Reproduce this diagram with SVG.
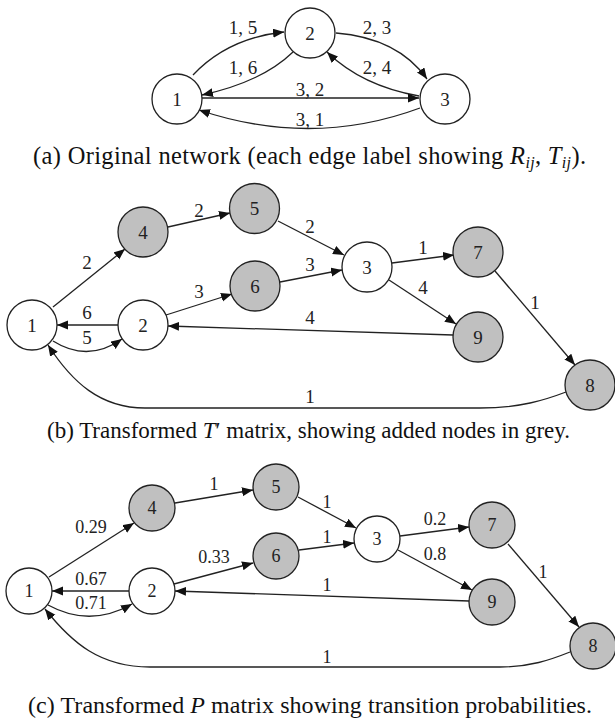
<svg xmlns="http://www.w3.org/2000/svg" width="615" height="720" viewBox="0 0 615 720">
<style>
.n{stroke:#222;stroke-width:1.3}
.w{fill:#fff}
.g{fill:#c0c0c0}
.e{fill:none;stroke:#222;stroke-width:1.3;marker-end:url(#arr)}
text{font-family:'Liberation Serif','DejaVu Serif',serif}
.t{font-size:19px;fill:#222;text-anchor:middle}
.tc{font-size:18px;fill:#222;text-anchor:middle}
.cap{font-size:23px;fill:#111}
</style>
<defs>
<marker id="arr" markerWidth="12" markerHeight="10" refX="11" refY="4.5" orient="auto" markerUnits="userSpaceOnUse"><path d="M0,0 L11,4.5 L0,9 z" fill="#111"/></marker>
</defs>
<rect width="615" height="720" fill="#fff"/>

<!-- (a) -->
<g id="a-edges">
<path class="e" d="M193,75 Q228,38 284,32"/>
<path class="e" d="M293,52 Q262,82 202,95"/>
<path class="e" d="M336,33 Q398,38 427,79"/>
<path class="e" d="M419,96 Q362,86 327,52"/>
<path class="e" d="M202,98 L419,98"/>
<path class="e" d="M420,108 Q312,148 199,110"/>
<text class="t" x="243" y="34">1, 5</text>
<text class="t" x="243" y="74">1, 6</text>
<text class="t" x="377" y="34">2, 3</text>
<text class="t" x="377" y="74">2, 4</text>
<text class="t" x="310" y="96">3, 2</text>
<text class="t" x="310" y="126">3, 1</text>
</g>
<g id="a-n1"><circle class="n w" cx="177" cy="99" r="25"/><text class="t" x="177" y="105.5">1</text></g>
<g id="a-n2"><circle class="n w" cx="310" cy="33" r="25"/><text class="t" x="310" y="39.5">2</text></g>
<g id="a-n3"><circle class="n w" cx="445" cy="99" r="25"/><text class="t" x="445" y="105.5">3</text></g>
<text class="cap" x="33" y="164" style="font-size:24.5px" textLength="553" lengthAdjust="spacing">(a) Original network (each edge label showing <tspan font-style="italic">R</tspan><tspan font-style="italic" style="font-size:16px" dy="4">ij</tspan><tspan dy="-4">, </tspan><tspan font-style="italic">T</tspan><tspan font-style="italic" style="font-size:16px" dy="4">ij</tspan><tspan dy="-4">).</tspan></text>

<!-- (b) -->
<g id="b-edges">
<path class="e" d="M53,307 L125,249"/>
<path class="e" d="M168,227 L230,213"/>
<path class="e" d="M278,221 L344,255"/>
<path class="e" d="M280,282 L342,270"/>
<path class="e" d="M166,315 L232,294"/>
<path class="e" d="M118,325 L57,325"/>
<path class="e" d="M53,341 Q88,363 122,339"/>
<path class="e" d="M453,335 L168,326"/>
<path class="e" d="M392,263 L454,255"/>
<path class="e" d="M389,280 L456,324"/>
<path class="e" d="M495,271 L575,365"/>
<path class="e" d="M566,392 C545,400 520,408 480,408 L145,408 C100,408 72,382 48,345"/>
<text class="t" x="87" y="269">2</text>
<text class="t" x="199" y="217">2</text>
<text class="t" x="310" y="233">2</text>
<text class="t" x="310" y="271">3</text>
<text class="t" x="199" y="298">3</text>
<text class="t" x="87" y="319">6</text>
<text class="t" x="87" y="344">5</text>
<text class="t" x="310" y="324">4</text>
<text class="t" x="423" y="254">1</text>
<text class="t" x="423" y="294">4</text>
<text class="t" x="535" y="309">1</text>
<text class="t" x="310" y="403">1</text>
</g>
<g id="b-n1"><circle class="n w" cx="32" cy="325" r="25"/><text class="t" x="32" y="331.5">1</text></g>
<g id="b-n2"><circle class="n w" cx="143" cy="325" r="25"/><text class="t" x="143" y="331.5">2</text></g>
<g id="b-n3"><circle class="n w" cx="367" cy="267" r="25"/><text class="t" x="367" y="273.5">3</text></g>
<g id="b-n4"><circle class="n g" cx="143" cy="232" r="25"/><text class="t" x="143" y="238.5">4</text></g>
<g id="b-n5"><circle class="n g" cx="254.5" cy="208.5" r="25"/><text class="t" x="254.5" y="215">5</text></g>
<g id="b-n6"><circle class="n g" cx="255" cy="286" r="25"/><text class="t" x="255" y="292.5">6</text></g>
<g id="b-n7"><circle class="n g" cx="478" cy="252" r="25"/><text class="t" x="478" y="258.5">7</text></g>
<g id="b-n9"><circle class="n g" cx="478" cy="337" r="25"/><text class="t" x="478" y="343.5">9</text></g>
<g id="b-n8"><circle class="n g" cx="590" cy="385" r="25"/><text class="t" x="590" y="391.5">8</text></g>
<text class="cap" x="47" y="438" textLength="523" lengthAdjust="spacing">(b) Transformed <tspan font-style="italic">T</tspan>′ matrix, showing added nodes in grey.</text>

<!-- (c) -->
<g id="c-edges">
<path class="e" d="M49,577 L134,523"/>
<path class="e" d="M175,503 L253,490"/>
<path class="e" d="M298,497 L356,528"/>
<path class="e" d="M299,550 L354,543"/>
<path class="e" d="M174,584 L253,563"/>
<path class="e" d="M129,591 L52,591"/>
<path class="e" d="M48,605 Q90,628 132,604"/>
<path class="e" d="M469,601 L175,591"/>
<path class="e" d="M400,536 L469,527"/>
<path class="e" d="M398,550 L472,590"/>
<path class="e" d="M508,544 L579,627"/>
<path class="e" d="M570,652 C550,660 530,667 500,667 L150,667 C100,667 72,643 45,609"/>
<text class="tc" x="91" y="533">0.29</text>
<text class="tc" x="214" y="490">1</text>
<text class="tc" x="327" y="508">1</text>
<text class="tc" x="327" y="543">1</text>
<text class="tc" x="214" y="563">0.33</text>
<text class="tc" x="91" y="585">0.67</text>
<text class="tc" x="91" y="609">0.71</text>
<text class="tc" x="327" y="591">1</text>
<text class="tc" x="435" y="525">0.2</text>
<text class="tc" x="435" y="560">0.8</text>
<text class="tc" x="543" y="578">1</text>
<text class="tc" x="327" y="663">1</text>
</g>
<g id="c-n1"><circle class="n w" cx="29" cy="591" r="23"/><text class="tc" x="29" y="597">1</text></g>
<g id="c-n2"><circle class="n w" cx="152" cy="591" r="23"/><text class="tc" x="152" y="597">2</text></g>
<g id="c-n3"><circle class="n w" cx="377" cy="539" r="23"/><text class="tc" x="377" y="545">3</text></g>
<g id="c-n4"><circle class="n g" cx="152" cy="508" r="23"/><text class="tc" x="152" y="514">4</text></g>
<g id="c-n5"><circle class="n g" cx="276" cy="487" r="23"/><text class="tc" x="276" y="493">5</text></g>
<g id="c-n6"><circle class="n g" cx="276" cy="556" r="23"/><text class="tc" x="276" y="562">6</text></g>
<g id="c-n7"><circle class="n g" cx="492" cy="525" r="23"/><text class="tc" x="492" y="531">7</text></g>
<g id="c-n9"><circle class="n g" cx="492" cy="602" r="23"/><text class="tc" x="492" y="608">9</text></g>
<g id="c-n8"><circle class="n g" cx="593" cy="646" r="23"/><text class="tc" x="593" y="652">8</text></g>
<text class="cap" x="28" y="713" style="font-size:24px" textLength="564" lengthAdjust="spacing">(c) Transformed <tspan font-style="italic">P</tspan> matrix showing transition probabilities.</text>
</svg>
